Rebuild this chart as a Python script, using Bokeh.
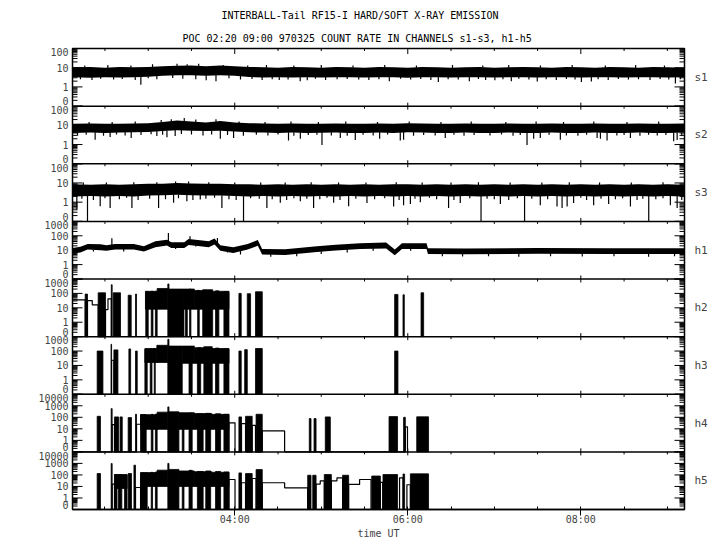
import numpy as np
from bokeh.plotting import figure
from bokeh.models import Range1d, FixedTicker, LinearAxis, Title, Span
from bokeh.embed import file_html
from bokeh.resources import INLINE

FONT = "DejaVu Sans Mono"

# ---------------- data (times in minutes after 00:00 UT, counts) ----------------
panels = ["s1", "s2", "s3", "h1", "h2", "h3", "h4", "h5"]
top_decade = [2, 2, 2, 3, 3, 3, 4, 4]

x_ticks = [240, 360, 480]
x_tick_labels = ["04:00", "06:00", "08:00"]
x_minor = [150, 180, 210, 270, 300, 330, 390, 420, 450, 510, 540]

band_t = [127.5, 140, 150, 160, 170, 180, 190, 200, 210, 220, 230, 240, 250, 260, 270,
          280, 290, 300, 310, 320, 330, 340, 350, 360, 370, 380, 390, 400, 410, 420,
          430, 440, 450, 460, 470, 480, 490, 500, 510, 520, 530, 540, 551.9]

s1_hi = [10.5, 11, 10, 11, 10.5, 11, 12, 12.5, 13, 12, 13, 12, 11, 10.5, 10, 11, 10.5, 10, 11, 10.5,
         10, 11, 10.5, 10, 11, 10.5, 10, 10.5, 11, 10, 10.5, 11, 10.5, 10, 11, 10.5, 10, 11, 10.5, 10,
         11, 10.5, 10]
s1_lo = [3.2, 3.0, 3.2, 3.1, 3.2, 3.4, 3.8, 4.0, 4.1, 3.8, 4.0, 3.8, 3.3, 3.1, 3.2, 3.1, 3.2, 3.1, 3.2, 3.2,
         3.1, 3.2, 3.2, 3.0, 3.2, 3.2, 3.1, 3.2, 3.2, 3.1, 3.2, 3.2, 3.1, 3.2, 3.2, 3.1, 3.2, 3.2, 3.1, 3.2,
         3.2, 3.1, 3.2]
s1_spk_t = [174.9, 220.2, 227.0, 270.9, 285.4, 290.3, 347.2, 381.2, 402.7, 420.4, 431.8, 449.8, 480.4, 487.3, 545.6]
s1_spk_v = [1.3, 2.2, 2.0, 2.3, 2.0, 2.2, 2.0, 1.8, 2.0, 2.2, 2.0, 1.9, 1.8, 1.9, 1.5]
s1_fr_t = [133, 141, 147, 156, 162, 171, 180, 186, 197, 204, 213, 236, 244, 252, 259, 266, 277, 296,
           303, 311, 318, 326, 333, 340, 355, 362, 369, 376, 388, 395, 409, 414, 426, 437, 444, 456,
           463, 470, 476, 492, 499, 506, 513, 520, 528, 535, 541, 549]
s1_fr_v = [2.5, 2.3, 2.7, 2.4, 2.6, 2.3, 2.8, 2.5, 2.9, 2.7, 2.5, 2.8, 2.4, 2.6, 2.3, 2.5, 2.4, 2.7,
           2.3, 2.5, 2.6, 2.4, 2.3, 2.5, 2.7, 2.4, 2.6, 2.3, 2.5, 2.4, 2.6, 2.3, 2.5, 2.7, 2.4, 2.5,
           2.3, 2.6, 2.4, 2.5, 2.3, 2.6, 2.4, 2.5, 2.3, 2.6, 2.4, 2.5]
s1_up_t = [136, 152, 168, 183, 200, 207, 215, 232, 249, 262, 281, 300, 322, 344, 366, 391, 412, 430,
           452, 474, 497, 518, 538]
s1_up_v = [13, 14, 13, 15, 16, 15, 16, 14, 13, 14, 13, 14, 13, 14, 13, 14, 13, 14, 13, 14, 13, 14, 13]

s2_hi = [12, 12.5, 12, 12, 12.5, 13, 15, 18, 16, 14, 17, 14, 13, 12.5, 12, 12.5, 12, 12, 12.5, 12,
         12, 12.5, 12, 13, 12.5, 12, 12, 12.5, 12, 12, 12.5, 12, 12, 12.5, 12, 12, 12.5, 12, 12, 12.5,
         12, 12, 12.5]
s2_lo = [4, 4.2, 4, 4.2, 4.3, 4.5, 5, 5.5, 5.3, 5, 5.2, 4.8, 4.3, 4.2, 4, 4.2, 4, 4.1, 4.2, 4,
         4, 4.2, 4, 4.3, 4.2, 4, 4, 4.2, 4, 4, 4.2, 4, 4, 4.2, 4, 4, 4.2, 4, 4, 4.2,
         4, 4, 4.2]
s2_spk_t = [143.2, 153.6, 168.2, 186.0, 193.0, 198.7, 230.0, 239.2, 277.3, 285.5, 300.5, 313.2, 323.6, 340.5,
            354.8, 357.1, 386.0, 442.7, 447.3, 451.9, 465.8, 491.3, 493.6, 498.2, 514.4, 544.4, 546.8]
s2_spk_v = [1.8, 2.5, 2.2, 2.8, 2.4, 2.8, 2.0, 2.2, 1.6, 2.0, 0.95, 2.2, 1.7, 2.0,
            1.6, 1.8, 2.2, 0.95, 2.0, 2.2, 1.8, 2.2, 2.0, 1.6, 2.2, 1.5, 1.7]
s2_fr_t = [131, 137, 149, 158, 164, 175, 182, 190, 203, 210, 218, 224, 235, 246, 255, 263, 270, 281,
           291, 297, 307, 318, 329, 336, 346, 364, 371, 379, 392, 399, 406, 417, 425, 433, 438, 458,
           470, 478, 484, 505, 510, 521, 527, 533, 539, 550]
s2_fr_v = [3.0, 3.2, 2.9, 3.3, 3.0, 3.1, 3.4, 3.2, 3.5, 3.3, 3.0, 3.3, 3.1, 2.9, 3.2, 3.0, 3.3, 2.9,
           3.1, 3.2, 3.0, 2.9, 3.2, 3.0, 3.3, 2.9, 3.1, 3.0, 3.2, 2.9, 3.1, 3.0, 3.3, 2.9, 3.1, 3.2,
           3.0, 2.9, 3.2, 3.0, 3.1, 2.9, 3.2, 3.0, 3.1, 2.9]
s2_up_t = [139, 155, 171, 189, 196, 205, 213, 227, 243, 261, 279, 298, 317, 339, 361, 383, 404, 428,
           449, 468, 489, 512, 534]
s2_up_v = [15, 15, 16, 19, 21, 24, 20, 21, 16, 15, 16, 15, 16, 15, 16, 15, 16, 15, 16, 15, 16, 15, 16]

s3_hi = [8.5, 8, 8.5, 8, 8.5, 9, 9, 10, 9.5, 9, 9, 8.5, 8.5, 8, 8.5, 8, 8.5, 8, 8.5, 8,
         8.5, 8, 8.5, 8.5, 8, 8.5, 8, 8.5, 8, 8.5, 8, 8.5, 8, 8.5, 8, 8.5, 8, 8.5, 8, 8.5,
         8, 8.5, 8]
s3_lo = [2, 2.1, 2, 2.1, 2, 2.2, 2.3, 2.4, 2.3, 2.2, 2.2, 2.1, 2, 2.1, 2, 2.1, 2, 2.1, 2, 2.1,
         2, 2.1, 2, 2.1, 2, 2.1, 2, 2.1, 2, 2.1, 2, 2.1, 2, 2.1, 2, 2.1, 2, 2.1, 2, 2.1,
         2, 2.1, 2]
s3_spk_t = [130.5, 137.9, 146.7, 153.6, 168.7, 187.2, 197.6, 206.8, 216.1, 231.1, 246.1, 262.3, 271.6, 285.5,
            294.7, 308.6, 319.0, 331.7, 350.2, 357.1, 361.8, 368.7, 388.3, 396.4, 410.8, 424.2, 441.0,
            451.9, 463.5, 467.0, 470.5, 475.0, 488.9, 499.3, 514.4, 527.1, 542.1, 546.8]
s3_spk_v = [0.41, 0, 0.61, 0.5, 0.5, 0.5, 0.92, 1.1, 1.36, 0.5, 0, 0.5, 0.92, 1.1,
            0.5, 0.92, 0.61, 0.9, 0.6, 0.7, 0.8, 1.0, 0.5, 0.9, 0, 0.8, 0,
            0.7, 0.6, 0.5, 0.6, 0.9, 0.7, 0.8, 0.6, 0, 0.7, 0.5]
s3_fr_t = [134, 142, 150, 160, 165, 173, 181, 192, 201, 211, 220, 226, 236, 241, 251, 257, 266, 276,
           281, 290, 299, 304, 313, 324, 337, 344, 354, 365, 375, 380, 392, 403, 415, 420, 430, 436,
           446, 457, 480, 484, 494, 504, 509, 519, 523, 532, 537, 550]
s3_fr_v = [1.5, 1.3, 1.6, 1.4, 1.7, 1.3, 1.5, 1.4, 1.6, 1.3, 1.5, 1.7, 1.4, 1.3, 1.6, 1.5, 1.4, 1.3,
           1.6, 1.5, 1.4, 1.7, 1.3, 1.5, 1.4, 1.6, 1.3, 1.5, 1.7, 1.4, 1.3, 1.6, 1.5, 1.4, 1.3, 1.6,
           1.5, 1.4, 1.7, 1.3, 1.5, 1.4, 1.6, 1.3, 1.5, 1.4, 1.6, 1.3]
s3_up_t = [135, 151, 170, 186, 199, 208, 222, 240, 258, 275, 293, 312, 331, 352, 370, 390, 409, 431,
           453, 472, 493, 515, 537]
s3_up_v = [10.5, 10.5, 11, 11, 12, 12, 11, 10.5, 10.5, 10.5, 11, 10.5, 10.5, 11, 10.5, 10.5, 11, 10.5,
           10.5, 11, 10.5, 10.5, 11]

h1_t = [127.5, 133, 138, 147, 151, 157, 170, 177, 185, 193, 196, 205, 208, 216, 222, 226, 230,
        239, 249, 256, 259, 275, 297, 310, 327, 345, 351, 356, 373, 374, 400, 450, 500, 551.9]
h1_lo = [6, 7, 11, 10, 9, 11, 11, 8, 16, 21, 14, 14, 23, 19, 16, 25, 9,
         6.5, 11, 20, 5, 4.7, 7.5, 9.5, 12, 13, 4.5, 12, 12, 5.5, 5.3, 5.6, 5.5, 5.5]
h1_hi = [14, 17, 27, 26, 22, 27, 27, 19, 42, 53, 35, 35, 59, 48, 42, 64, 22,
         16, 27, 51, 12, 11.5, 19, 24, 30, 34, 11, 30, 30, 13.5, 13, 14, 13.5, 13.5]
h1_spk_t = [154.8, 194.0, 209.0, 228.0]
h1_spk_v = [67, 155, 92, 70]
h1_dn_t = [142, 163, 181, 199, 213, 235, 244, 265, 283, 300, 318, 336, 362, 384, 398, 416, 437, 459,
           481, 503, 527, 545]
h1_dn_v = [8, 8, 15, 12, 18, 7, 5, 3.5, 3.8, 5.5, 7, 9, 9, 3.8, 3.6, 3.8, 3.5, 3.8, 3.6, 3.8, 3.5, 3.8]

h2_blk_t0 = [136.3, 145.3, 154.4, 155.7, 166.1, 171.2, 178.3, 182.1, 185.0, 193.6, 194.4, 205.9,
             208.7, 214.3, 217.8, 226.7, 232.5, 242.9, 248.7, 254.4, 350.9, 356.7, 369.2]
h2_blk_t1 = [137.9, 150.4, 155.0, 160.8, 168.2, 171.9, 180.0, 183.3, 186.2, 194.4, 204.8, 207.1,
             209.6, 215.4, 224.7, 229.0, 236.0, 244.5, 251.0, 259.1, 353.2, 357.6, 371.0]
h2_blk_top = [90, 110, 400, 110, 75, 90, 130, 140, 140, 450, 200, 170,
              200, 160, 180, 150, 130, 100, 95, 130, 85, 80, 110]
h2_band_t0 = [178.1, 186.2, 204.8, 212.0, 220.0]
h2_band_t1 = [186.2, 193.6, 212.0, 220.0, 236.0]
h2_band_lo = [8, 8, 8, 8, 8]
h2_band_hi = [140, 220, 200, 160, 140]
h2_step_t = [127.5, 136.3, 137.9, 141.2, 145.3, 150.4, 152.1, 154.4]
h2_step_v = [35, 0, 32, 16, 0, 7.6, 42, 0]

h3_blk_t0 = [144.6, 154.2, 156.2, 166.6, 171.2, 177.7, 181.4, 184.2, 193.6, 194.4, 208.3, 214.1,
             218.6, 226.7, 232.5, 242.9, 246.9, 254.4, 350.9]
h3_blk_t1 = [148.6, 154.6, 159.0, 167.8, 172.4, 179.3, 182.6, 184.9, 194.4, 203.6, 210.5, 216.4,
             224.4, 229.0, 236.0, 244.5, 248.7, 259.1, 353.2]
h3_blk_top = [100, 295, 120, 140, 100, 130, 140, 150, 650, 220, 200, 170,
              200, 160, 140, 100, 125, 150, 100]
h3_band_t0 = [177.7, 186.0, 203.6, 212.0, 220.0]
h3_band_t1 = [186.0, 193.6, 212.0, 220.0, 236.0]
h3_band_lo = [16, 16, 14, 14, 14]
h3_band_hi = [150, 250, 220, 170, 150]
h3_step_t = [127.5, 154.6, 156.2]
h3_step_v = [0, 23, 0]

h4_blk_t0 = [144.6, 154.3, 156.6, 160.5, 166.1, 171.2, 174.7, 182.1, 185.0, 193.6, 194.4, 203.6, 208.3,
             214.1, 219.9, 226.7, 232.5, 242.9, 247.5, 254.8, 291.7, 295.0, 302.8, 347.0, 357.1, 366.2]
h4_blk_t1 = [146.9, 155.0, 159.5, 162.0, 168.4, 171.9, 178.6, 183.3, 186.2, 194.4, 201.3, 204.8, 210.5,
             218.1, 223.3, 230.2, 236.0, 244.7, 252.1, 259.1, 292.9, 296.4, 306.3, 352.9, 358.3, 374.4]
h4_blk_top = [122, 565, 108, 108, 94, 183, 170, 180, 190, 800, 300, 220, 230,
              200, 220, 200, 180, 108, 122, 183, 77, 77, 108, 115, 100, 110]
h4_band_t0 = [174.7, 186.2, 201.3, 212.0, 224.0]
h4_band_t1 = [186.2, 193.6, 212.0, 224.0, 236.0]
h4_band_lo = [9, 9, 9, 9, 9]
h4_band_hi = [170, 280, 250, 210, 180]
h4_step_t = [127.5, 155.0, 156.6, 171.9, 176.4, 236.0, 240.2, 244.7, 247.5, 252.1, 254.4, 259.1,
             274.6, 358.3, 359.8]
h4_step_v = [0, 23, 0, 25, 0, 33, 0, 28, 0, 20, 0, 6.6, 0, 15, 0]

h5_blk_t0 = [144.6, 154.3, 156.8, 159.4, 163.6, 166.1, 170.1, 174.7, 182.1, 185.0, 193.6, 194.4,
             203.6, 208.3, 214.1, 219.9, 226.7, 232.5, 242.9, 247.5, 254.8, 290.6, 294.1, 302.1,
             314.8, 335.0, 342.8, 356.7, 361.8]
h5_blk_t1 = [146.9, 155.0, 158.4, 161.7, 165.3, 168.4, 171.2, 179.3, 183.0, 186.2, 194.4, 201.3,
             204.8, 210.5, 218.1, 223.3, 230.2, 236.0, 244.7, 252.1, 259.1, 292.9, 296.4, 307.0,
             319.0, 341.0, 352.9, 357.8, 374.4]
h5_blk_top = [132, 970, 108, 108, 100, 132, 700, 150, 170, 180, 1000, 300,
              200, 250, 200, 220, 200, 180, 150, 132, 290, 94, 94, 108,
              94, 80, 108, 120, 124]
h5_band_t0 = [156.6, 174.7, 186.2, 201.3, 212.0, 224.0]
h5_band_t1 = [165.4, 186.2, 193.6, 212.0, 224.0, 236.0]
h5_band_lo = [6.6, 10, 10, 10, 10, 10]
h5_band_hi = [108, 160, 260, 220, 190, 170]
h5_step_t = [127.5, 155.0, 156.6, 171.2, 174.7, 236.0, 240.2, 244.7, 247.5, 252.1, 254.8, 259.1,
             274.6, 290.6, 296.4, 299.3, 302.1, 307.0, 310.9, 314.8, 319.0, 326.6, 334.5, 341.0,
             342.6, 354.3, 356.7, 359.4, 361.8]
h5_step_v = [0, 16, 0, 8.1, 0, 40, 0, 21, 0, 49, 0, 21, 7.6, 0, 16, 31, 0, 31, 56, 0, 15, 40, 0, 23,
             0, 56, 0, 14, 0]

# ---------------- layout helpers ----------------
T0, T1 = 127.5, 551.9
NP = len(panels)
PH = 60.0
FW, FH = 612, 461
XPX = (T1 - T0) / FW          # minutes per pixel
YPX = NP * PH / FH            # y-units per pixel


def base(i):
    return (NP - 1 - i) * PH


def unit(i):
    return PH / (top_decade[i] + 1)


def ypos(v, i):
    v = np.asarray(v, dtype=float)
    lg = np.where(v > 0, np.log10(np.clip(v, 0.1, None)), -1.0)
    return base(i) + (lg + 1.0) * unit(i)


p = figure(frame_width=FW, frame_height=FH, x_range=Range1d(T0, T1), y_range=Range1d(0, NP * PH),
           x_axis_type=None, y_axis_type=None, output_backend="svg", toolbar_location=None,
           min_border_left=72, min_border_right=36, min_border_top=48, min_border_bottom=30,
           background_fill_color="white", border_fill_color="white")
p.grid.visible = False
p.outline_line_color = "black"
p.outline_line_width = 1.5

# titles
t2 = Title(text="POC 02:20 09:00 970325  COUNT RATE IN CHANNELS s1-s3, h1-h5", align="left",
           offset=110, text_font=FONT, text_font_size="10px", text_font_style="normal",
           text_color="black", standoff=10)
t1 = Title(text="INTERBALL-Tail RF15-I HARD/SOFT X-RAY EMISSION", align="left",
           offset=149, text_font=FONT, text_font_size="10px", text_font_style="normal",
           text_color="black", standoff=10)
p.add_layout(t2, "above")
p.add_layout(t1, "above")

# bottom time axis
xax = LinearAxis(ticker=FixedTicker(ticks=x_ticks, minor_ticks=x_minor),
                 major_label_overrides={t: l for t, l in zip(x_ticks, x_tick_labels)},
                 axis_label="time UT", axis_label_text_font=FONT, axis_label_text_font_size="10px",
                 axis_label_text_font_style="normal", axis_label_standoff=0,
                 major_label_text_font=FONT, major_label_text_font_size="10px",
                 major_label_standoff=-2, major_tick_in=3, major_tick_out=6,
                 minor_tick_in=3, minor_tick_out=0, axis_line_width=1.5)
p.add_layout(xax, "below")

# left labels
lbl_pos, lbl_txt = [], []
for i in range(NP):
    for d in range(-1, top_decade[i] + 1):
        y = base(i) + (d + 1) * unit(i)
        if d == -1:
            y += 5
            txt = "0"
        else:
            txt = str(10 ** d)
            if d == top_decade[i]:
                y -= 4
        lbl_pos.append(int(round(y)))
        lbl_txt.append(txt)
yax = LinearAxis(ticker=FixedTicker(ticks=lbl_pos, minor_ticks=[]),
                 major_label_overrides=dict(zip(lbl_pos, lbl_txt)),
                 major_label_text_font=FONT, major_label_text_font_size="10px",
                 major_tick_in=0, major_tick_out=0, minor_tick_in=0, minor_tick_out=0,
                 major_tick_line_color=None, minor_tick_line_color=None, axis_line_color=None,
                 major_label_standoff=4)
p.add_layout(yax, "left")

# right channel names
ctr = [base(i) + PH / 2 for i in range(NP)]
rax = LinearAxis(ticker=FixedTicker(ticks=ctr, minor_ticks=[]),
                 major_label_overrides=dict(zip(ctr, panels)),
                 major_label_text_font=FONT, major_label_text_font_size="11px",
                 major_tick_in=0, major_tick_out=0, minor_tick_in=0, minor_tick_out=0,
                 major_tick_line_color=None, minor_tick_line_color=None, axis_line_color=None,
                 major_label_standoff=10)
p.add_layout(rax, "right")

# panel separators
for i in range(1, NP):
    p.add_layout(Span(location=base(i) + PH, dimension="width",
                      line_color="black", line_width=1.5))

# inward log ticks on both sides of every panel
mx0, mx1, my = [], [], []
nx0, nx1, ny = [], [], []
for i in range(NP):
    for d in range(-1, top_decade[i] + 1):
        y = base(i) + (d + 1) * unit(i)
        mx0 += [T0, T1 - 10 * XPX]
        mx1 += [T0 + 10 * XPX, T1]
        my += [y, y]
    for d in range(-1, top_decade[i]):
        for k in range(2, 10):
            y = base(i) + (d + 1 + np.log10(k)) * unit(i)
            nx0 += [T0, T1 - 5 * XPX]
            nx1 += [T0 + 5 * XPX, T1]
            ny += [y, y]
p.segment(x0=mx0, y0=my, x1=mx1, y1=my, line_color="black", line_width=1)
p.segment(x0=nx0, y0=ny, x1=nx1, y1=ny, line_color="black", line_width=1)

# time ticks on each panel boundary
bx, by0, by1 = [], [], []
for i in range(NP):
    b = base(i) + PH
    for t in x_ticks:
        bx.append(t)
        if i == 0:
            by0.append(b - 5.5 * YPX); by1.append(b)
        else:
            by0.append(b - 3.5 * YPX); by1.append(b + 3.5 * YPX)
    for t in x_minor:
        bx.append(t); by0.append(b - 2.5 * YPX); by1.append(b)
p.segment(x0=bx, y0=by0, x1=bx, y1=by1, line_color="black", line_width=1)

# ---------------- data glyphs ----------------
bt = np.array(band_t)
s_sets = [(s1_hi, s1_lo, s1_spk_t, s1_spk_v, s1_fr_t, s1_fr_v, s1_up_t, s1_up_v),
          (s2_hi, s2_lo, s2_spk_t, s2_spk_v, s2_fr_t, s2_fr_v, s2_up_t, s2_up_v),
          (s3_hi, s3_lo, s3_spk_t, s3_spk_v, s3_fr_t, s3_fr_v, s3_up_t, s3_up_v)]
for i, (hi, lo, st, sv, ft, fv, ut, uv) in enumerate(s_sets):
    ylo, yhi = ypos(lo, i), ypos(hi, i)
    p.varea(x=bt, y1=ylo, y2=yhi, fill_color="black")
    dt = np.array(list(st) + list(ft))
    dv = list(sv) + list(fv)
    p.segment(x0=dt, y0=np.interp(dt, bt, ylo) + 0.5, x1=dt, y1=ypos(dv, i),
              line_color="black", line_width=1.2)
    ut = np.array(ut)
    p.segment(x0=ut, y0=np.interp(ut, bt, yhi) - 0.5, x1=ut, y1=ypos(uv, i),
              line_color="black", line_width=1.2)

# h1
ylo, yhi = ypos(h1_lo, 3), ypos(h1_hi, 3)
p.varea(x=h1_t, y1=ylo, y2=yhi, fill_color="black")
st = np.array(h1_spk_t)
p.segment(x0=st, y0=np.interp(st, h1_t, yhi) - 0.5, x1=st, y1=ypos(h1_spk_v, 3),
          line_color="black", line_width=1.2)
dt = np.array(h1_dn_t)
p.segment(x0=dt, y0=np.interp(dt, h1_t, ylo) + 0.5, x1=dt, y1=ypos(h1_dn_v, 3),
          line_color="black", line_width=1.2)

# h2..h5
hsets = [
    (h2_blk_t0, h2_blk_t1, h2_blk_top, h2_band_t0, h2_band_t1, h2_band_lo, h2_band_hi, h2_step_t, h2_step_v),
    (h3_blk_t0, h3_blk_t1, h3_blk_top, h3_band_t0, h3_band_t1, h3_band_lo, h3_band_hi, h3_step_t, h3_step_v),
    (h4_blk_t0, h4_blk_t1, h4_blk_top, h4_band_t0, h4_band_t1, h4_band_lo, h4_band_hi, h4_step_t, h4_step_v),
    (h5_blk_t0, h5_blk_t1, h5_blk_top, h5_band_t0, h5_band_t1, h5_band_lo, h5_band_hi, h5_step_t, h5_step_v),
]
for j, (a0, a1, atop, b0, b1, blo, bhi, stt, stv) in enumerate(hsets):
    i = 4 + j
    p.step(x=stt, y=ypos(stv, i), mode="after", line_color="black", line_width=1.2)
    p.quad(left=b0, right=b1, bottom=ypos(blo, i), top=ypos(bhi, i),
           fill_color="black", line_color="black", line_width=0.8)
    p.quad(left=a0, right=a1, bottom=[base(i)] * len(a0), top=ypos(atop, i),
           fill_color="black", line_color="black", line_width=0.8)

open("out.html", "w").write(file_html(p, INLINE))
